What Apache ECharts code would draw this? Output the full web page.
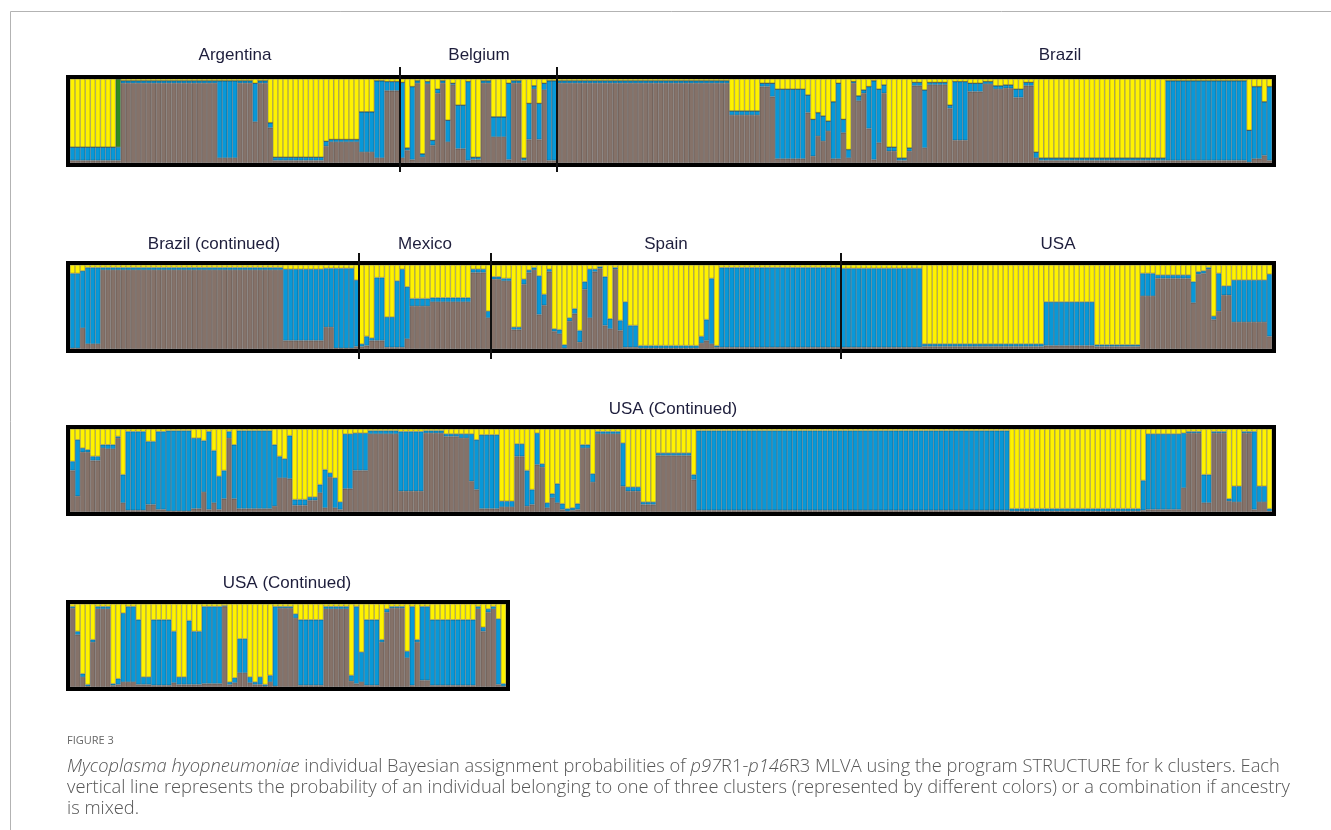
<!DOCTYPE html>
<html>
<head>
<meta charset="utf-8">
<script src="https://cdn.jsdelivr.net/npm/echarts@6/dist/echarts.min.js"></script>
<style>
  html, body { margin: 0; padding: 0; background: #fff; }
  #chart { width: 1331px; height: 830px; }
</style>
</head>
<body>
<div id="chart"></div>
<script>
// each run: [number of individuals, brown %, blue %, yellow %, (green %)]
const row1Runs = [
  // Argentina
  [9, 3, 16, 81], [1, 3, 16, 0, 81], [19, 95, 3, 2], [4, 6, 92, 2], [3, 95, 3, 2],
  [1, 49, 46, 5], [2, 95, 3, 2], [1, 42, 6, 52], [10, 3, 4, 93], [1, 20, 6, 74],
  [6, 25, 3, 72], [3, 13, 48, 39], [2, 6, 92, 2], [3, 86, 11, 3],
  // Belgium
  [1, 6, 90, 4], [1, 15, 3, 82], [1, 4, 87, 9], [1, 95, 3, 2], [1, 7, 4, 89],
  [1, 94, 3, 3], [1, 21, 6, 73], [1, 83, 5, 12], [1, 95, 3, 2], [1, 25, 26, 49],
  [1, 93, 2, 5], [2, 17, 52, 31], [1, 3, 94, 3], [2, 4, 3, 93], [2, 95, 3, 2],
  [3, 31, 24, 45], [1, 4, 91, 5], [2, 95, 3, 2], [1, 3, 3, 94], [1, 28, 43, 29],
  [1, 88, 4, 8], [1, 28, 43, 29], [1, 87, 8, 5], [2, 3, 95, 2],
  // Brazil
  [34, 95, 3, 2], [6, 57, 5, 38], [2, 91, 4, 5], [1, 79, 16, 5], [6, 5, 83, 12],
  [1, 60, 21, 19], [1, 8, 44, 48], [1, 32, 28, 40], [1, 26, 30, 44], [1, 38, 12, 50],
  [1, 5, 68, 27], [1, 5, 90, 5], [1, 36, 16, 48], [1, 6, 10, 84], [1, 95, 2, 3],
  [1, 74, 6, 20], [1, 83, 4, 13], [1, 41, 50, 9], [1, 4, 94, 2], [1, 24, 64, 12],
  [1, 83, 10, 7], [2, 14, 5, 81], [2, 3, 3, 94], [1, 14, 4, 82], [2, 92, 4, 4],
  [1, 18, 69, 13], [4, 93, 3, 4], [1, 65, 4, 31], [3, 27, 70, 3], [3, 85, 10, 5],
  [2, 94, 3, 3], [2, 88, 4, 8], [2, 89, 4, 7], [2, 78, 10, 12], [2, 92, 4, 4],
  [1, 6, 7, 87], [25, 3, 3, 94], [16, 3, 95, 2], [1, 1, 38, 61], [2, 5, 86, 9],
  [1, 9, 64, 27], [1, 3, 88, 9]
];
const row2Runs = [
  // Brazil (continued)
  [2, 1, 89, 10], [1, 25, 68, 7], [3, 6, 91, 3], [36, 94, 3, 3], [8, 10, 85, 5],
  [2, 26, 70, 4], [4, 1, 95, 4], [1, 3, 79, 18],
  // Mexico
  [1, 3, 3, 94], [1, 4, 11, 85], [1, 10, 3, 87], [2, 10, 75, 15], [2, 2, 36, 62],
  [1, 2, 79, 19], [1, 2, 93, 5], [1, 12, 62, 26], [4, 51, 9, 40], [8, 56, 5, 39],
  [3, 91, 4, 5], [1, 37, 8, 55],
  // Spain
  [2, 83, 3, 14], [2, 81, 3, 16], [2, 23, 3, 74], [1, 77, 6, 17], [1, 91, 3, 6],
  [1, 94, 3, 3], [1, 41, 46, 13], [1, 52, 13, 35], [1, 92, 3, 5], [1, 21, 3, 76],
  [1, 18, 5, 77], [1, 1, 4, 95], [1, 33, 4, 63], [1, 42, 6, 52], [1, 8, 14, 78],
  [1, 71, 9, 20], [1, 37, 58, 5], [1, 92, 3, 5], [1, 96, 2, 2], [1, 28, 58, 14],
  [1, 24, 12, 64], [1, 95, 2, 3], [1, 22, 12, 66], [1, 2, 54, 44], [2, 2, 26, 72],
  [12, 1, 3, 96], [1, 7, 8, 85], [1, 10, 25, 65], [1, 6, 78, 16], [1, 2, 2, 96],
  [24, 2, 95, 3],
  // USA
  [16, 2, 94, 4], [24, 3, 3, 94], [10, 4, 52, 44], [9, 3, 2, 95], [3, 63, 27, 10],
  [7, 84, 4, 12], [1, 55, 25, 20], [1, 89, 3, 8], [1, 90, 3, 7], [1, 95, 2, 3],
  [1, 35, 4, 61], [1, 45, 45, 10], [2, 64, 11, 25], [7, 32, 50, 18], [1, 15, 74, 11]
];
const row3Runs = [
  // USA (continued)
  [1, 50, 11, 39], [1, 19, 68, 13], [1, 72, 5, 23], [1, 72, 3, 25], [2, 62, 5, 33],
  [1, 77, 4, 19], [2, 76, 5, 19], [1, 89, 2, 9], [1, 11, 34, 55], [4, 2, 95, 3],
  [2, 9, 76, 15], [2, 3, 94, 3], [5, 1, 97, 2], [2, 4, 85, 11], [1, 24, 62, 14],
  [1, 3, 94, 3], [1, 11, 63, 26], [1, 3, 40, 57], [1, 16, 34, 50], [1, 89, 8, 3],
  [1, 16, 65, 19], [7, 4, 94, 2], [1, 7, 74, 19], [1, 41, 26, 33], [1, 41, 23, 36],
  [1, 40, 52, 8], [3, 8, 7, 85], [2, 14, 4, 82], [1, 23, 10, 67], [1, 5, 46, 49],
  [1, 42, 5, 53], [1, 5, 36, 59], [1, 3, 9, 88], [2, 28, 66, 6], [3, 50, 45, 5],
  [6, 94, 4, 2], [5, 25, 72, 3], [4, 95, 3, 2], [3, 91, 3, 6], [2, 89, 5, 6],
  [1, 37, 57, 6], [1, 27, 60, 13], [4, 4, 89, 7], [3, 6, 7, 87], [2, 67, 15, 18],
  [1, 7, 43, 50], [1, 9, 18, 73], [1, 57, 38, 5], [1, 54, 4, 42], [1, 5, 6, 89],
  [1, 17, 5, 78], [1, 11, 23, 66], [1, 3, 7, 90], [1, 1, 3, 96], [1, 2, 3, 95],
  [1, 3, 7, 90], [2, 77, 4, 19], [1, 36, 10, 54], [5, 94, 3, 3], [1, 31, 52, 17],
  [3, 25, 5, 70], [3, 9, 3, 88], [7, 68, 3, 29], [1, 39, 6, 55], [62, 2, 96, 2],
  [26, 1, 3, 96], [1, 2, 36, 62], [7, 3, 91, 6], [1, 29, 66, 5], [3, 95, 2, 3],
  [2, 11, 34, 55], [3, 95, 2, 3], [1, 13, 3, 84], [2, 12, 19, 69], [2, 95, 2, 3],
  [1, 3, 94, 3], [2, 12, 19, 69], [1, 1, 3, 96]
];
const row4Runs = [
  // USA (continued)
  [1, 95, 2, 3], [1, 63, 4, 33], [1, 12, 4, 84], [1, 1, 2, 97], [1, 54, 3, 43],
  [3, 94, 3, 3], [1, 2, 2, 96], [1, 3, 7, 90], [1, 6, 83, 11], [2, 6, 91, 3],
  [1, 3, 78, 19], [2, 3, 9, 88], [4, 2, 79, 19], [1, 5, 62, 33], [2, 3, 9, 88],
  [1, 3, 77, 20], [2, 3, 64, 33], [4, 4, 93, 3], [1, 97, 1, 2], [1, 3, 3, 94],
  [1, 5, 6, 89], [2, 17, 41, 42], [1, 5, 7, 88], [1, 3, 3, 94], [1, 3, 9, 88],
  [1, 1, 2, 97], [1, 6, 8, 86], [1, 1, 96, 3], [3, 95, 2, 3], [1, 83, 5, 12],
  [5, 2, 79, 19], [5, 94, 3, 3], [1, 7, 7, 86], [1, 4, 93, 3], [1, 6, 36, 58],
  [3, 2, 79, 19], [1, 54, 3, 43], [1, 90, 4, 6], [3, 95, 2, 3], [1, 35, 8, 57],
  [1, 2, 95, 3], [1, 54, 3, 43], [2, 8, 89, 3], [9, 2, 79, 19], [1, 94, 3, 3],
  [1, 67, 5, 28], [1, 90, 4, 6], [1, 94, 3, 3], [1, 3, 79, 18], [1, 1, 3, 96]
];

// individuals per population, per row
const row1Groups = ['Argentina', 'Belgium', 'Brazil'];
const row1GroupBars = [65, 31, 141];
const row2Groups = ['Brazil (continued)', 'Mexico', 'Spain', 'USA'];
const row2GroupBars = [57, 26, 69, 85];
const row3Groups = ['USA (Continued)'];
const row4Groups = ['USA (Continued)'];

const clusterNames = ['Cluster 1', 'Cluster 2', 'Cluster 3', 'Cluster 4'];
const clusterColors = ['#857269', '#0898d8', '#fff200', '#2f8b21'];

// layout
const grids = [
  { left: 70, top: 79, width: 1202, height: 84 },
  { left: 70, top: 265, width: 1202, height: 84 },
  { left: 70, top: 429, width: 1202, height: 83 },
  { left: 70, top: 604, width: 436, height: 83 }
];
const labelPos = [
  [[235, 55], [479, 55], [1060, 55]],
  [[214, 244], [425, 244], [666, 244], [1058, 244]],
  [[673, 409]],
  [[287, 583]]
];
const dividerSpan = [[67, 172], [253, 359]];

function expand(runs) {
  const out = [[], [], [], []];
  runs.forEach(r => {
    for (let k = 0; k < r[0]; k++) {
      out[0].push(r[1]);
      out[1].push(r[2]);
      out[2].push(r[3]);
      out[3].push(r[4] || 0);
    }
  });
  return out;
}

const rows = [row1Runs, row2Runs, row3Runs, row4Runs].map(expand);

const chart = echarts.init(document.getElementById('chart'));

const xAxis = [], yAxis = [], series = [];
rows.forEach((cols, r) => {
  xAxis.push({
    type: 'category', gridIndex: r, show: false,
    data: cols[0].map((_, i) => 'R' + (r + 1) + '-' + (i + 1))
  });
  yAxis.push({ type: 'value', gridIndex: r, show: false, min: 0, max: 100 });
  // brown, blue, green, yellow from bottom up
  [0, 1, 3, 2].forEach(c => {
    if (c === 3 && r > 0) return;
    series.push({
      name: clusterNames[c],
      type: 'bar',
      xAxisIndex: r,
      yAxisIndex: r,
      stack: 'row' + r,
      barCategoryGap: '0%',
      data: cols[c],
      itemStyle: {
        color: clusterColors[c],
        borderColor: 'rgba(25,25,25,0.55)',
        borderWidth: 0.5
      },
      emphasis: { disabled: true }
    });
  });
});

chart.setOption({
  animation: false,
  backgroundColor: '#fff',
  grid: grids.map(g => Object.assign({ containLabel: false }, g)),
  xAxis: xAxis,
  yAxis: yAxis,
  series: series
});

// frames, population dividers, labels, caption
const graphic = [];
graphic.push({
  type: 'rect', shape: { x: 10.5, y: 11.5, width: 1400, height: 900 },
  style: { fill: null, stroke: '#b3b3b3', lineWidth: 1 }, z: 1
});
grids.forEach(g => {
  graphic.push({
    type: 'rect',
    shape: { x: g.left - 2, y: g.top - 2, width: g.width + 4, height: g.height + 4 },
    style: { fill: null, stroke: '#000', lineWidth: 4 },
    z: 100
  });
});
[row1GroupBars, row2GroupBars].forEach((bars, r) => {
  const cats = xAxis[r].data;
  let acc = 0;
  for (let k = 0; k < bars.length - 1; k++) {
    acc += bars[k];
    const a = chart.convertToPixel({ xAxisIndex: r }, cats[acc - 1]);
    const b = chart.convertToPixel({ xAxisIndex: r }, cats[acc]);
    const x = Math.round((a + b) / 2);
    graphic.push({
      type: 'line',
      shape: { x1: x, y1: dividerSpan[r][0], x2: x, y2: dividerSpan[r][1] },
      style: { stroke: '#111', lineWidth: 2 },
      z: 101
    });
  }
});
[row1Groups, row2Groups, row3Groups, row4Groups].forEach((names, r) => {
  names.forEach((name, k) => {
    graphic.push({
      type: 'text',
      x: labelPos[r][k][0], y: labelPos[r][k][1],
      style: {
        text: name, fill: '#1e1e3c',
        font: '17px "Liberation Sans", Arial, sans-serif',
        align: 'center', verticalAlign: 'middle'
      },
      z: 102
    });
  });
});

graphic.push({
  type: 'text', x: 67, y: 741,
  style: {
    text: 'FIGURE 3', fill: '#666',
    font: '11px "Open Sans", sans-serif',
    align: 'left', verticalAlign: 'middle'
  }
});
const captionLines = [
  '{i|Mycoplasma hyopneumoniae} individual Bayesian assignment probabilities of {i|p97}R1-{i|p146}R3 MLVA using the program STRUCTURE for k clusters. Each',
  'vertical line represents the probability of an individual belonging to one of three clusters (represented by different colors) or a combination if ancestry',
  'is mixed.'
];
captionLines.forEach((line, k) => {
  graphic.push({
    type: 'text', x: 67, y: 767 + k * 21,
    style: {
      text: line, fill: '#555',
      font: '300 18.3px "Open Sans", sans-serif',
      align: 'left', verticalAlign: 'middle',
      rich: {
        i: { fontStyle: 'italic', fontWeight: 300, fontSize: 18.3, fontFamily: 'Open Sans', fill: '#555' }
      }
    }
  });
});

chart.setOption({ graphic: graphic });
</script>
</body>
</html>
